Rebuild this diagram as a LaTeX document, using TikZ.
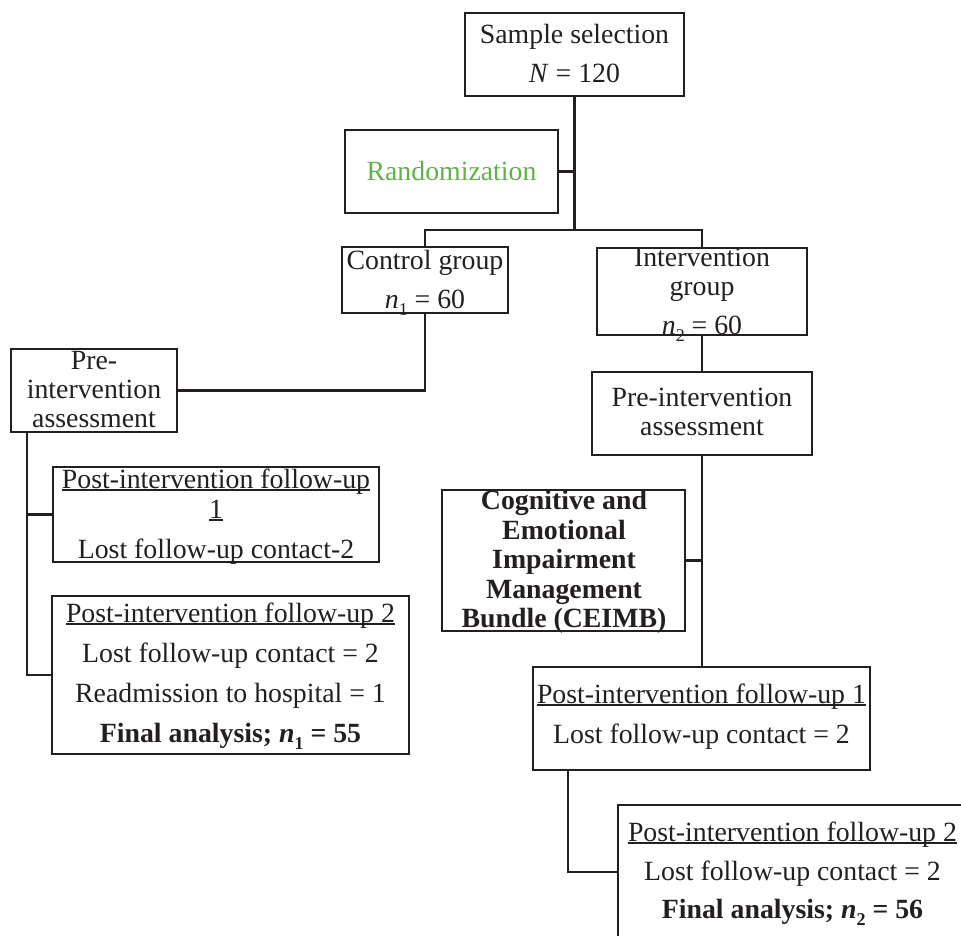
\documentclass[tikz,border=0pt]{standalone}
\usepackage{fontspec}
\setmainfont{Liberation Serif}
\definecolor{ink}{HTML}{231F20}
\definecolor{rgreen}{RGB}{96,178,72}
\newsavebox\ulbox
\newcommand\myul[1]{\sbox\ulbox{#1}\rlap{\rule[-3.2pt]{\wd\ulbox}{1.8pt}}\usebox\ulbox}
\newcommand\mysub[1]{\raisebox{-7pt}{\fontsize{18}{18}\selectfont #1}}
\tikzset{
  box/.style={draw=ink, line width=2.6pt, rectangle, inner sep=0pt, outer sep=0pt, anchor=north west},
  txt/.style={inner sep=0pt, outer sep=0pt, anchor=base, text=ink, font=\fontsize{27.8}{30}\selectfont},
  link/.style={draw=ink, line width=2.6pt}
}
\begin{document}
\begin{tikzpicture}[x=1pt, y=-1pt]
\useasboundingbox (0,0) rectangle (961,935);
% boxes
\node[box, minimum width=219pt, minimum height=83pt] (sample) at (465,13) {};
\node[box, minimum width=213pt, minimum height=83pt] (rand) at (345,130) {};
\node[box, minimum width=166pt, minimum height=66pt] (ctrl) at (342,247) {};
\node[box, minimum width=210pt, minimum height=87pt] (intv) at (597,248) {};
\node[box, minimum width=166pt, minimum height=83pt] (preL) at (11,349) {};
\node[box, minimum width=220pt, minimum height=83pt] (preR) at (592,372) {};
\node[box, minimum width=243pt, minimum height=141pt] (ceimb) at (442,490) {};
\node[box, minimum width=326pt, minimum height=95pt] (fuoneL) at (53,467) {};
\node[box, minimum width=357pt, minimum height=158pt] (futwoL) at (52,596) {};
\node[box, minimum width=337pt, minimum height=103pt] (fuoneR) at (533,667) {};
\node[box, minimum width=370pt, minimum height=134pt] (futwoR) at (618,805) {};
% connectors
\coordinate (j1) at ([yshift=-134pt]sample.south);
\draw[link] (sample.south) -- (j1);
\draw[link] (rand.east) -- (rand.east -| j1);
\draw[link] (ctrl.north) -- (ctrl.north |- j1) -- (intv.north |- j1) -- (intv.north);
\draw[link] (ctrl.south) |- (preL.east);
\coordinate (lx) at ([xshift=16pt]preL.south west);
\draw[link] (lx) |- (fuoneL.west);
\draw[link] (lx) |- (futwoL.west);
\draw[link] (intv.south) -- (preR.north);
\draw[link] (preR.south) -- (preR.south |- fuoneR.north);
\draw[link] (ceimb.east) -- (ceimb.east -| preR.south);
\coordinate (r2) at ([xshift=35pt]fuoneR.south west);
\draw[link] (r2) |- (futwoR.west);
% texts
\node[txt] (t1) at (574.5,43) {Sample selection};
\node[txt] (t2) at (574.5,82) {\textit{N} = 120};
\node[txt, text=rgreen] (t3) at (451.5,180) {Randomization};
\node[txt] (t4) at (425,269) {Control group};
\node[txt] (t5) at (425,308) {\textit{n}\mysub{1} = 60};
\node[txt] (t6) at (702,266) {Intervention};
\node[txt] (t7) at (702,295) {group};
\node[txt] (t8) at (702,334) {\textit{n}\mysub{2} = 60};
\node[txt] (t9) at (94,369) {Pre-};
\node[txt] (t10) at (94,398) {intervention};
\node[txt] (t11) at (94,427) {assessment};
\node[txt] (t12) at (702,406) {Pre-intervention};
\node[txt] (t13) at (702,435) {assessment};
\node[txt, font=\fontsize{27.8}{30}\selectfont\bfseries] (t14) at (564,509) {Cognitive and};
\node[txt, font=\fontsize{27.8}{30}\selectfont\bfseries] (t15) at (564,539) {Emotional};
\node[txt, font=\fontsize{27.8}{30}\selectfont\bfseries] (t16) at (564,568) {Impairment};
\node[txt, font=\fontsize{27.8}{30}\selectfont\bfseries] (t17) at (564,598) {Management};
\node[txt, font=\fontsize{27.8}{30}\selectfont\bfseries] (t18) at (564,627) {Bundle (CEIMB)};
\node[txt] (t19) at (216,488) {\myul{Post-intervention follow-up}};
\node[txt] (t20) at (216,518) {\myul{1}};
\node[txt] (t21) at (216,558) {Lost follow-up contact-2};
\node[txt] (t22) at (230.5,622) {\myul{Post-intervention follow-up 2}};
\node[txt] (t23) at (230.5,662) {Lost follow-up contact = 2};
\node[txt] (t24) at (230.5,702) {Readmission to hospital = 1};
\node[txt, font=\fontsize{27.8}{30}\selectfont\bfseries] (t25) at (230.5,742) {Final analysis; \textit{n}\mysub{1} = 55};
\node[txt] (t26) at (701.5,703) {\myul{Post-intervention follow-up 1}};
\node[txt] (t27) at (701.5,743) {Lost follow-up contact = 2};
\node[txt] (t28) at (792.5,841) {\myul{Post-intervention follow-up 2}};
\node[txt] (t29) at (792.5,880) {Lost follow-up contact = 2};
\node[txt, font=\fontsize{27.8}{30}\selectfont\bfseries] (t30) at (792.5,918) {Final analysis; \textit{n}\mysub{2} = 56};
\end{tikzpicture}
\end{document}
